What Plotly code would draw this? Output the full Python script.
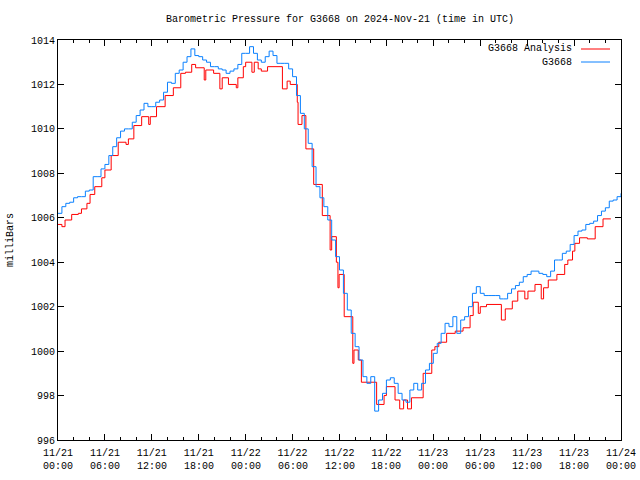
import plotly.graph_objects as go

# Time in hours since 2024-11-21 00:00 UTC
blue_hours = [i * 0.5 for i in range(145)]
blue_values = [
    1006.2, 1006.5, 1006.65, 1006.7, 1006.9, 1006.95, 1006.95, 1007.2, 1007.25, 1007.85,
    1007.85, 1008.2, 1008.4, 1008.8, 1009.2, 1009.6, 1009.9, 1010.0, 1010.0, 1010.3,
    1010.6, 1010.85, 1011.15, 1011.0, 1011.0, 1011.2, 1011.3, 1011.65, 1012.1, 1012.05,
    1012.5, 1012.65, 1013.0, 1013.25, 1013.6, 1013.3, 1013.25, 1013.1, 1013.0, 1012.8,
    1012.8, 1012.7, 1012.65, 1012.5, 1012.6, 1012.7, 1012.9, 1013.4, 1013.4, 1013.7,
    1013.4, 1013.1, 1013.0, 1013.25, 1013.5, 1013.3, 1012.95, 1012.95, 1012.95, 1012.7,
    1012.35, 1011.5, 1010.7, 1010.0, 1009.35, 1008.3, 1007.4, 1006.9, 1006.5, 1005.9,
    1005.0, 1004.25, 1003.65, 1002.6, 1001.85, 1000.8, 1000.2, 999.6, 998.85, 998.55,
    998.85, 997.3, 997.8, 998.1, 998.7, 998.8, 998.55, 998.1, 997.8, 997.7,
    998.25, 998.55, 998.25, 998.55, 999.15, 999.45, 999.9, 1000.35, 1000.8, 1001.25,
    1001.1, 1001.55, 1000.8, 1001.4, 1001.55, 1002.0, 1002.6, 1002.9, 1002.6, 1002.5,
    1002.5, 1002.5, 1002.5, 1002.35, 1002.35, 1002.6, 1002.8, 1002.95, 1003.1, 1003.35,
    1003.45, 1003.6, 1003.6, 1003.5, 1003.45, 1003.35, 1003.6, 1004.1, 1004.1, 1004.4,
    1004.5, 1004.8, 1005.2, 1005.4, 1005.45, 1005.7, 1005.75, 1005.85, 1006.1, 1006.3,
    1006.45, 1006.75, 1006.8, 1006.95, 1007.1,
]

red_hours = [
    0.0, 0.5, 0.9, 1.75, 2.6, 3.0, 3.7, 4.1, 4.7, 5.6, 6.0, 6.8, 7.7, 8.7, 9.0, 9.7,
    10.7, 11.6, 11.8, 12.6, 13.7, 14.75, 15.7, 16.3, 17.1, 17.6, 18.7, 18.9, 19.9, 20.7,
    21.0, 21.8, 22.8, 23.0, 23.7, 24.0, 24.8, 25.1, 25.6, 26.0, 26.8, 28.7, 29.3, 29.7,
    30.6, 30.7, 31.2, 31.7, 32.7, 33.8, 34.8, 35.0, 35.6, 35.8, 35.95, 36.6, 37.7, 37.85,
    38.4, 38.8, 40.75, 41.7, 42.0, 43.1, 43.7, 44.2, 44.7, 45.2, 46.7, 47.8, 48.2, 48.7,
    49.7, 50.8, 51.8, 52.7, 53.1, 53.75, 54.0, 54.8, 56.7, 57.2, 58.1, 58.8, 59.7, 60.1,
    61.0, 61.8, 62.1, 62.7, 63.8, 64.8, 65.2, 65.8, 66.1, 66.7, 67.7, 68.7, 69.7, 70.7,
]
red_values = [
    1005.7, 1005.6, 1005.9, 1006.15, 1006.2, 1006.4, 1006.65, 1007.05, 1007.4, 1007.8,
    1008.15, 1008.8, 1009.4, 1009.3, 1009.55, 1010.15, 1010.55, 1010.2, 1010.55, 1011.0,
    1011.5, 1011.85, 1012.5, 1012.55, 1012.9, 1012.75, 1012.2, 1012.65, 1012.5, 1011.8,
    1012.3, 1012.0, 1011.85, 1012.3, 1012.8, 1013.0, 1012.55, 1013.0, 1012.7, 1012.6,
    1012.8, 1011.8, 1012.15, 1012.0, 1011.2, 1010.2, 1010.6, 1009.1, 1007.5, 1006.1,
    1004.55, 1005.15, 1004.0, 1002.85, 1003.45, 1001.55, 999.45, 1000.05, 999.6, 998.6,
    997.6, 998.0, 998.4, 997.8, 997.4, 997.8, 997.4, 997.9, 999.0, 1000.05,
    1000.2, 1000.4, 1000.8, 1000.9, 1001.05, 1001.6, 1002.2, 1001.7, 1002.0, 1002.1,
    1001.4, 1001.9, 1002.25, 1002.7, 1002.35, 1002.7, 1003.0, 1002.35, 1002.85, 1003.2,
    1003.45, 1003.9, 1004.1, 1004.5, 1004.85, 1005.1, 1005.05, 1005.6, 1005.95, 1005.95,
]

x_tick_vals = [0, 6, 12, 18, 24, 30, 36, 42, 48, 54, 60, 66, 72]
x_tick_dates = ["11/21", "11/21", "11/21", "11/21", "11/22", "11/22", "11/22",
                "11/22", "11/23", "11/23", "11/23", "11/23", "11/24"]
x_tick_times = ["00:00", "06:00", "12:00", "18:00", "00:00", "06:00", "12:00",
                "18:00", "00:00", "06:00", "12:00", "18:00", "00:00"]
y_tick_vals = [996, 998, 1000, 1002, 1004, 1006, 1008, 1010, 1012, 1014]

series_names = ["G3668 Analysis", "G3668"]
series_colors = ["#ff0000", "#0a80ff"]

FONT = "Liberation Mono, DejaVu Sans Mono, monospace"

fig = go.Figure()
fig.add_trace(go.Scatter(x=red_hours, y=red_values, mode="lines", line_shape="hv",
                         line=dict(color=series_colors[0], width=1), name=series_names[0]))
fig.add_trace(go.Scatter(x=blue_hours, y=blue_values, mode="lines", line_shape="hv",
                         line=dict(color=series_colors[1], width=1), name=series_names[1]))

fig.update_layout(
    width=640, height=480,
    margin=dict(l=58, r=19, t=40, b=40, autoexpand=False),
    paper_bgcolor="white", plot_bgcolor="white",
    showlegend=False,
    font=dict(family=FONT, size=10, color="black"),
)
fig.update_xaxes(
    range=[0, 72], tickvals=x_tick_vals, ticktext=x_tick_dates, automargin=False,
    showgrid=False, zeroline=False, showline=True, linecolor="black", linewidth=1,
    mirror="ticks", ticks="inside", ticklen=6, tickcolor="black", tickwidth=1,
    ticklabelstandoff=3,
    minor=dict(dtick=2, ticks="inside", ticklen=3, tickcolor="black", showgrid=False),
    tickfont=dict(family=FONT, size=10, color="black"),
)
fig.update_yaxes(
    range=[996, 1014], tickvals=y_tick_vals, automargin=False,
    showgrid=False, zeroline=False, showline=True, linecolor="black", linewidth=1,
    mirror="ticks", ticks="inside", ticklen=6, tickcolor="black", tickwidth=1,
    tickfont=dict(family=FONT, size=10, color="black"),
)

# second row of x tick labels (time of day)
for tv, tt in zip(x_tick_vals, x_tick_times):
    fig.add_annotation(text=tt, xref="x", yref="paper", x=tv, y=(440 - 467) / 400,
                       showarrow=False, xanchor="center", yanchor="middle",
                       font=dict(family=FONT, size=10, color="black"))

# title
fig.add_annotation(text="Barometric Pressure for G3668 on 2024-Nov-21 (time in UTC)",
                   xref="paper", yref="paper", x=0.5, y=(440 - 19) / 400,
                   showarrow=False, xanchor="center", yanchor="middle",
                   font=dict(family=FONT, size=10, color="black"))

# y-axis label
fig.add_annotation(text="milliBars", xref="paper", yref="paper", x=(10 - 58) / 563, y=0.5,
                   textangle=-90, showarrow=False, xanchor="center", yanchor="middle",
                   font=dict(family=FONT, size=10, color="black"))

# gnuplot-style legend (text, then line sample)
legend_rows = [(49, 0), (62, 1)]
for ypix, idx in legend_rows:
    yp = (440 - ypix) / 400
    fig.add_annotation(text=series_names[idx], xref="paper", yref="paper",
                       x=(574 - 58) / 563, y=yp, showarrow=False,
                       xanchor="right", yanchor="middle",
                       font=dict(family=FONT, size=10, color="black"))
    fig.add_shape(type="line", xref="paper", yref="paper",
                  x0=(581 - 58) / 563, x1=(610 - 58) / 563, y0=yp, y1=yp,
                  line=dict(color=series_colors[idx], width=1))

fig.write_html("out.html", config={"displayModeBar": False},
               post_script="document.body.style.margin='0';document.body.style.padding='0';")
